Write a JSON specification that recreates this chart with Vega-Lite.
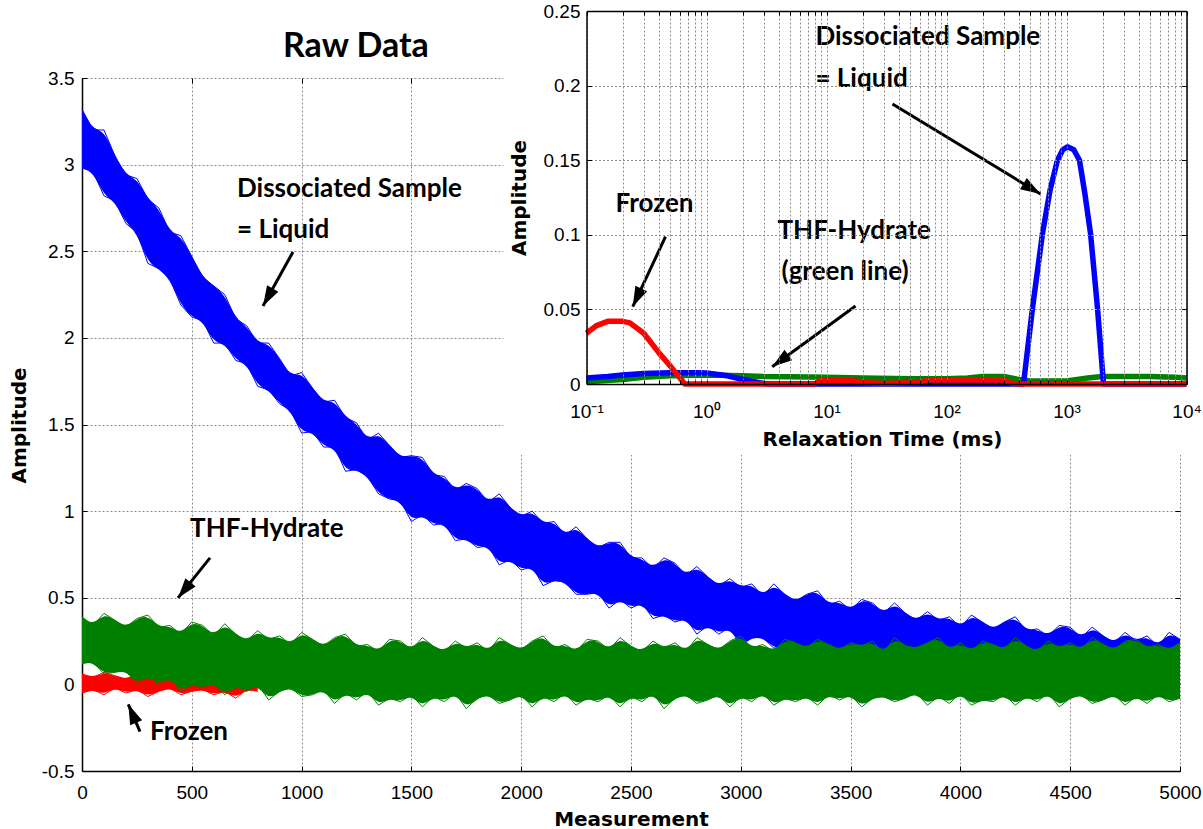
{
  "$schema": "https://vega.github.io/schema/vega-lite/v6.json",
  "width": 1098,
  "height": 693,
  "autosize": {"type": "none"},
  "padding": {"left": 82, "top": 78, "right": 23, "bottom": 58},
  "background": "white",
  "config": {
    "view": {"stroke": null},
    "axis": {"grid": false, "gridColor": "#8c8c8c", "gridDash": [2, 2], "gridWidth": 1, "domainColor": "black", "domainWidth": 1.5,
      "tickColor": "black", "labelFont": "Liberation Sans", "labelFontSize": 19, "labelColor": "black",
      "labelFlush": false, "labelOverlap": false, "titleFont": "DejaVu Sans", "titleFontSize": 20,
      "titleFontWeight": "bold", "titleColor": "black"}
  },
  "datasets": {
    "blue": [
      {"x":0,"lo":2.98,"hi":3.32},{"x":50,"lo":2.96,"hi":3.20},{"x":100,"lo":2.82,"hi":3.20},{"x":150,"lo":2.79,"hi":3.05},
      {"x":200,"lo":2.66,"hi":2.94},{"x":250,"lo":2.61,"hi":2.92},{"x":300,"lo":2.43,"hi":2.80},{"x":350,"lo":2.40,"hi":2.75},
      {"x":400,"lo":2.34,"hi":2.61},{"x":450,"lo":2.19,"hi":2.59},{"x":500,"lo":2.12,"hi":2.47},{"x":550,"lo":2.10,"hi":2.35},
      {"x":600,"lo":1.97,"hi":2.30},{"x":650,"lo":1.97,"hi":2.25},{"x":700,"lo":1.87,"hi":2.11},{"x":750,"lo":1.85,"hi":2.07},
      {"x":800,"lo":1.72,"hi":1.97},{"x":850,"lo":1.70,"hi":1.97},{"x":900,"lo":1.62,"hi":1.88},{"x":950,"lo":1.58,"hi":1.78},
      {"x":1000,"lo":1.45,"hi":1.80},{"x":1050,"lo":1.46,"hi":1.71},{"x":1100,"lo":1.37,"hi":1.63},{"x":1150,"lo":1.37,"hi":1.64},
      {"x":1200,"lo":1.23,"hi":1.54},{"x":1250,"lo":1.24,"hi":1.51},{"x":1300,"lo":1.20,"hi":1.41},{"x":1350,"lo":1.10,"hi":1.45},
      {"x":1400,"lo":1.07,"hi":1.38},{"x":1450,"lo":1.06,"hi":1.31},{"x":1500,"lo":0.94,"hi":1.32},{"x":1550,"lo":0.98,"hi":1.31},
      {"x":1600,"lo":0.92,"hi":1.21},{"x":1650,"lo":0.93,"hi":1.20},{"x":1700,"lo":0.83,"hi":1.12},{"x":1750,"lo":0.84,"hi":1.16},
      {"x":1800,"lo":0.79,"hi":1.13},{"x":1850,"lo":0.80,"hi":1.05},{"x":1900,"lo":0.69,"hi":1.10},{"x":1950,"lo":0.72,"hi":1.02},
      {"x":2000,"lo":0.66,"hi":0.97},{"x":2050,"lo":0.68,"hi":1.00},{"x":2100,"lo":0.57,"hi":0.93},{"x":2150,"lo":0.60,"hi":0.94},
      {"x":2200,"lo":0.59,"hi":0.86},{"x":2250,"lo":0.52,"hi":0.91},{"x":2300,"lo":0.52,"hi":0.84},{"x":2350,"lo":0.53,"hi":0.79},
      {"x":2400,"lo":0.44,"hi":0.82},{"x":2450,"lo":0.49,"hi":0.82},{"x":2500,"lo":0.44,"hi":0.73},{"x":2550,"lo":0.47,"hi":0.73},
      {"x":2600,"lo":0.38,"hi":0.67},{"x":2650,"lo":0.40,"hi":0.73},{"x":2700,"lo":0.36,"hi":0.70},{"x":2750,"lo":0.38,"hi":0.63},
      {"x":2800,"lo":0.29,"hi":0.68},{"x":2850,"lo":0.34,"hi":0.62},{"x":2900,"lo":0.29,"hi":0.57},{"x":2950,"lo":0.33,"hi":0.61},
      {"x":3000,"lo":0.22,"hi":0.56},{"x":3050,"lo":0.27,"hi":0.58},{"x":3100,"lo":0.27,"hi":0.51},{"x":3150,"lo":0.21,"hi":0.58},
      {"x":3200,"lo":0.21,"hi":0.52},{"x":3250,"lo":0.23,"hi":0.48},{"x":3300,"lo":0.15,"hi":0.52},{"x":3350,"lo":0.20,"hi":0.54},
      {"x":3400,"lo":0.16,"hi":0.46},{"x":3450,"lo":0.20,"hi":0.48},{"x":3500,"lo":0.12,"hi":0.43},{"x":3550,"lo":0.15,"hi":0.49},
      {"x":3600,"lo":0.13,"hi":0.47},{"x":3650,"lo":0.16,"hi":0.41},{"x":3700,"lo":0.08,"hi":0.47},{"x":3750,"lo":0.13,"hi":0.41},
      {"x":3800,"lo":0.10,"hi":0.37},{"x":3850,"lo":0.14,"hi":0.42},{"x":3900,"lo":0.04,"hi":0.37},{"x":3950,"lo":0.10,"hi":0.39},
      {"x":4000,"lo":0.11,"hi":0.33},{"x":4050,"lo":0.05,"hi":0.40},{"x":4100,"lo":0.07,"hi":0.36},{"x":4150,"lo":0.09,"hi":0.32},
      {"x":4200,"lo":0.02,"hi":0.36},{"x":4250,"lo":0.07,"hi":0.39},{"x":4300,"lo":0.04,"hi":0.31},{"x":4350,"lo":0.08,"hi":0.32},
      {"x":4400,"lo":0.01,"hi":0.28},{"x":4450,"lo":0.04,"hi":0.34},{"x":4500,"lo":0.02,"hi":0.33},{"x":4550,"lo":0.06,"hi":0.27},
      {"x":4600,"lo":-0.02,"hi":0.33},{"x":4650,"lo":0.04,"hi":0.28},{"x":4700,"lo":0.01,"hi":0.24},{"x":4750,"lo":0.05,"hi":0.30},
      {"x":4800,"lo":-0.04,"hi":0.25},{"x":4850,"lo":0.02,"hi":0.28},{"x":4900,"lo":0.03,"hi":0.22},{"x":4950,"lo":-0.02,"hi":0.30},
      {"x":5000,"lo":0.00,"hi":0.26}
    ],
    "green": [
      {"x":0,"lo":0.12,"hi":0.39},{"x":50,"lo":0.13,"hi":0.34},{"x":100,"lo":0.06,"hi":0.41},{"x":150,"lo":0.07,"hi":0.37},
      {"x":200,"lo":0.08,"hi":0.33},{"x":250,"lo":0.00,"hi":0.38},{"x":300,"lo":0.05,"hi":0.40},{"x":350,"lo":0.00,"hi":0.33},
      {"x":400,"lo":0.04,"hi":0.34},{"x":450,"lo":-0.04,"hi":0.29},{"x":500,"lo":0.00,"hi":0.36},{"x":550,"lo":-0.02,"hi":0.34},
      {"x":600,"lo":0.01,"hi":0.28},{"x":650,"lo":-0.06,"hi":0.35},{"x":700,"lo":-0.01,"hi":0.29},{"x":750,"lo":-0.04,"hi":0.25},
      {"x":800,"lo":0.00,"hi":0.31},{"x":850,"lo":-0.09,"hi":0.26},{"x":900,"lo":-0.04,"hi":0.28},{"x":950,"lo":-0.02,"hi":0.23},
      {"x":1000,"lo":-0.07,"hi":0.30},{"x":1050,"lo":-0.06,"hi":0.26},{"x":1100,"lo":-0.03,"hi":0.22},{"x":1150,"lo":-0.11,"hi":0.27},
      {"x":1200,"lo":-0.05,"hi":0.29},{"x":1250,"lo":-0.09,"hi":0.22},{"x":1300,"lo":-0.04,"hi":0.23},{"x":1350,"lo":-0.12,"hi":0.19},
      {"x":1400,"lo":-0.08,"hi":0.26},{"x":1450,"lo":-0.10,"hi":0.25},{"x":1500,"lo":-0.06,"hi":0.20},{"x":1550,"lo":-0.13,"hi":0.27},
      {"x":1600,"lo":-0.07,"hi":0.22},{"x":1650,"lo":-0.10,"hi":0.19},{"x":1700,"lo":-0.05,"hi":0.25},{"x":1750,"lo":-0.14,"hi":0.21},
      {"x":1800,"lo":-0.08,"hi":0.24},{"x":1850,"lo":-0.06,"hi":0.19},{"x":1900,"lo":-0.11,"hi":0.27},{"x":1950,"lo":-0.09,"hi":0.23},
      {"x":2000,"lo":-0.06,"hi":0.20},{"x":2050,"lo":-0.13,"hi":0.25},{"x":2100,"lo":-0.07,"hi":0.28},{"x":2150,"lo":-0.10,"hi":0.21},
      {"x":2200,"lo":-0.05,"hi":0.23},{"x":2250,"lo":-0.12,"hi":0.19},{"x":2300,"lo":-0.08,"hi":0.26},{"x":2350,"lo":-0.10,"hi":0.25},
      {"x":2400,"lo":-0.06,"hi":0.20},{"x":2450,"lo":-0.13,"hi":0.27},{"x":2500,"lo":-0.07,"hi":0.22},{"x":2550,"lo":-0.10,"hi":0.19},
      {"x":2600,"lo":-0.05,"hi":0.25},{"x":2650,"lo":-0.14,"hi":0.21},{"x":2700,"lo":-0.08,"hi":0.24},{"x":2750,"lo":-0.06,"hi":0.19},
      {"x":2800,"lo":-0.11,"hi":0.27},{"x":2850,"lo":-0.09,"hi":0.23},{"x":2900,"lo":-0.06,"hi":0.20},{"x":2950,"lo":-0.13,"hi":0.25},
      {"x":3000,"lo":-0.07,"hi":0.28},{"x":3050,"lo":-0.10,"hi":0.21},{"x":3100,"lo":-0.05,"hi":0.23},{"x":3150,"lo":-0.12,"hi":0.19},
      {"x":3200,"lo":-0.08,"hi":0.26},{"x":3250,"lo":-0.10,"hi":0.24},{"x":3300,"lo":-0.07,"hi":0.21},{"x":3350,"lo":-0.12,"hi":0.26},
      {"x":3400,"lo":-0.06,"hi":0.23},{"x":3450,"lo":-0.09,"hi":0.20},{"x":3500,"lo":-0.06,"hi":0.24},{"x":3550,"lo":-0.13,"hi":0.22},
      {"x":3600,"lo":-0.08,"hi":0.25},{"x":3650,"lo":-0.07,"hi":0.18},{"x":3700,"lo":-0.10,"hi":0.27},{"x":3750,"lo":-0.08,"hi":0.22},
      {"x":3800,"lo":-0.05,"hi":0.21},{"x":3850,"lo":-0.12,"hi":0.24},{"x":3900,"lo":-0.07,"hi":0.27},{"x":3950,"lo":-0.11,"hi":0.20},
      {"x":4000,"lo":-0.05,"hi":0.24},{"x":4050,"lo":-0.12,"hi":0.19},{"x":4100,"lo":-0.09,"hi":0.25},{"x":4150,"lo":-0.10,"hi":0.23},
      {"x":4200,"lo":-0.06,"hi":0.20},{"x":4250,"lo":-0.12,"hi":0.27},{"x":4300,"lo":-0.07,"hi":0.22},{"x":4350,"lo":-0.10,"hi":0.19},
      {"x":4400,"lo":-0.05,"hi":0.25},{"x":4450,"lo":-0.13,"hi":0.21},{"x":4500,"lo":-0.08,"hi":0.24},{"x":4550,"lo":-0.06,"hi":0.20},
      {"x":4600,"lo":-0.11,"hi":0.27},{"x":4650,"lo":-0.09,"hi":0.23},{"x":4700,"lo":-0.06,"hi":0.20},{"x":4750,"lo":-0.12,"hi":0.25},
      {"x":4800,"lo":-0.07,"hi":0.26},{"x":4850,"lo":-0.11,"hi":0.21},{"x":4900,"lo":-0.06,"hi":0.23},{"x":4950,"lo":-0.10,"hi":0.20},
      {"x":5000,"lo":-0.08,"hi":0.24}
    ],
    "red": [
      {"x":0,"lo":-0.05,"hi":0.06},{"x":50,"lo":-0.03,"hi":0.04},{"x":100,"lo":-0.06,"hi":0.07},{"x":150,"lo":-0.02,"hi":0.05},
      {"x":200,"lo":-0.05,"hi":0.03},{"x":250,"lo":-0.03,"hi":0.06},{"x":300,"lo":-0.07,"hi":0.04},{"x":350,"lo":-0.04,"hi":0.06},
      {"x":400,"lo":-0.02,"hi":0.05},{"x":450,"lo":-0.06,"hi":0.03},{"x":500,"lo":-0.04,"hi":0.05},{"x":550,"lo":-0.03,"hi":0.04},
      {"x":600,"lo":-0.06,"hi":0.06},{"x":650,"lo":-0.04,"hi":0.03},{"x":700,"lo":-0.08,"hi":0.05},{"x":750,"lo":-0.03,"hi":0.04},
      {"x":800,"lo":-0.04,"hi":0.03}
    ],
    "notesMain": [
      {"label":"Dissociated Sample","x":706,"y":2.813},
      {"label":"= Liquid","x":706,"y":2.577},
      {"label":"THF-Hydrate","x":492,"y":0.851},
      {"label":"Frozen","x":310,"y":-0.321}
    ],
    "heading": [{"label":"Raw Data","x":915,"y":3.621}],
    "arrowsMain": [
      {"tx":960.8,"ty":2.496,"hx":824.2,"hy":2.184,"dir":209.1},
      {"tx":582.9,"ty":0.730,"hx":437.2,"hy":0.499,"dir":218.7},
      {"tx":264.1,"ty":-0.273,"hx":210.8,"hy":-0.115,"dir":336.9}
    ],
    "panel": [{"x1":0.0203,"x2":14000,"y1":-0.0476,"y2":0.26}],
    "dgreen": [
      {"t":0.1,"a":0.0015},{"t":0.2,"a":0.003},{"t":0.3,"a":0.0045},{"t":0.5,"a":0.0055},{"t":1,"a":0.006},
      {"t":2,"a":0.0055},{"t":3,"a":0.005},{"t":5,"a":0.0048},{"t":10,"a":0.0045},{"t":20,"a":0.004},
      {"t":50,"a":0.0035},{"t":100,"a":0.0035},{"t":150,"a":0.004},{"t":200,"a":0.005},{"t":300,"a":0.005},
      {"t":400,"a":0.003},{"t":500,"a":0.002},{"t":700,"a":0.002},{"t":1000,"a":0.002},{"t":1500,"a":0.004},
      {"t":2000,"a":0.005},{"t":5000,"a":0.005},{"t":8000,"a":0.0045},{"t":10000,"a":0.004}
    ],
    "dblue": [
      {"t":0.1,"a":0.004},{"t":0.15,"a":0.005},{"t":0.2,"a":0.006},{"t":0.3,"a":0.007},{"t":0.5,"a":0.0076},
      {"t":0.8,"a":0.0076},{"t":1,"a":0.0074},{"t":1.5,"a":0.0055},{"t":2,"a":0.003},{"t":3,"a":0.0003},
      {"t":3.5,"a":0},{"t":100,"a":0},{"t":438,"a":0},{"t":521,"a":0.051},{"t":631,"a":0.101},
      {"t":730,"a":0.13},{"t":841,"a":0.15},{"t":930,"a":0.157},{"t":1019,"a":0.159},{"t":1150,"a":0.157},
      {"t":1283,"a":0.15},{"t":1420,"a":0.128},{"t":1585,"a":0.101},{"t":1812,"a":0.051},{"t":2033,"a":0},
      {"t":10000,"a":0}
    ],
    "dred": [
      {"t":0.1,"a":0.034},{"t":0.12,"a":0.039},{"t":0.15,"a":0.042},{"t":0.2,"a":0.042},{"t":0.23,"a":0.041},
      {"t":0.3,"a":0.034},{"t":0.4,"a":0.021},{"t":0.5,"a":0.012},{"t":0.6,"a":0.004},{"t":0.66,"a":0},
      {"t":8,"a":0},{"t":9,"a":0.0025},{"t":16,"a":0.0027},{"t":20,"a":0.001},{"t":30,"a":0.0003},
      {"t":60,"a":0.001},{"t":70,"a":0.0027},{"t":300,"a":0.0027},{"t":350,"a":0.0005},{"t":400,"a":0},
      {"t":10000,"a":0}
    ],
    "notesInset": [
      {"label":"Dissociated Sample","t":8.09,"a":0.2272},
      {"label":"= Liquid","t":8.09,"a":0.1988},
      {"label":"Frozen","t":0.1745,"a":0.1151},
      {"label":"THF-Hydrate","t":3.905,"a":0.0970},
      {"label":"(green line)","t":4.217,"a":0.0697}
    ],
    "arrowsInset": [
      {"tx":35.48,"ty":0.1877,"hx":607.4,"hy":0.1273,"dir":121.3},
      {"tx":0.4552,"ty":0.0987,"hx":0.2430,"hy":0.0518,"dir":205.0},
      {"tx":17.45,"ty":0.0523,"hx":3.527,"hy":0.0116,"dir":233.9}
    ]
  },
  "layer": [
    {
      "layer": [
        {
          "data": {"name": "blue"},
          "mark": {"type": "area", "color": "#0000ff", "opacity": 1, "interpolate": "basis"},
          "encoding": {
            "x": {"field": "x", "type": "quantitative", "scale": {"domain": [0, 5000], "nice": false, "zero": false},
              "axis": {"orient": "bottom", "values": [0,500,1000,1500,2000,2500,3000,3500,4000,4500,5000], "labelExpr": "'' + datum.value", "grid": true, "tickSize": -5, "labelPadding": 17, "labelBaseline": "top", "title": "Measurement", "titleY": 54, "titleBaseline": "alphabetic"}},
            "y": {"field": "hi", "type": "quantitative", "scale": {"domain": [-0.5, 3.5], "nice": false, "zero": false},
              "axis": {"orient": "left", "values": [-0.5,0,0.5,1,1.5,2,2.5,3,3.5], "labelExpr": "'' + datum.value", "grid": true, "tickSize": -5, "labelPadding": 13, "labelBaseline": "middle", "labelAlign": "right", "title": "Amplitude", "titleX": -57, "titleY": 347, "titleAngle": 270, "titleBaseline": "alphabetic", "titleAlign": "center"}},
            "y2": {"field": "lo"}
          }
        },
        {
          "data": {"name": "blue"},
          "transform": [{"fold": ["hi", "lo"]}],
          "mark": {"type": "line", "color": "#0000ff", "strokeWidth": 1},
          "encoding": {
            "x": {"field": "x", "type": "quantitative", "scale": {"domain": [0, 5000], "nice": false, "zero": false},
              "axis": {"orient": "bottom", "values": [0,500,1000,1500,2000,2500,3000,3500,4000,4500,5000], "labelExpr": "'' + datum.value", "grid": true, "tickSize": -5, "labelPadding": 17, "labelBaseline": "top", "title": "Measurement", "titleY": 54, "titleBaseline": "alphabetic"}},
            "y": {"field": "value", "type": "quantitative", "scale": {"domain": [-0.5, 3.5], "nice": false, "zero": false},
              "axis": {"orient": "left", "values": [-0.5,0,0.5,1,1.5,2,2.5,3,3.5], "labelExpr": "'' + datum.value", "grid": true, "tickSize": -5, "labelPadding": 13, "labelBaseline": "middle", "labelAlign": "right", "title": "Amplitude", "titleX": -57, "titleY": 347, "titleAngle": 270, "titleBaseline": "alphabetic", "titleAlign": "center"}},
            "detail": {"field": "key"}
          }
        },
        {
          "data": {"name": "red"},
          "mark": {"type": "area", "color": "#ff0000", "opacity": 1, "interpolate": "basis"},
          "encoding": {
            "x": {"field": "x", "type": "quantitative", "scale": {"domain": [0, 5000], "nice": false, "zero": false},
              "axis": {"orient": "bottom", "values": [0,500,1000,1500,2000,2500,3000,3500,4000,4500,5000], "labelExpr": "'' + datum.value", "grid": true, "tickSize": -5, "labelPadding": 17, "labelBaseline": "top", "title": "Measurement", "titleY": 54, "titleBaseline": "alphabetic"}},
            "y": {"field": "hi", "type": "quantitative", "scale": {"domain": [-0.5, 3.5], "nice": false, "zero": false},
              "axis": {"orient": "left", "values": [-0.5,0,0.5,1,1.5,2,2.5,3,3.5], "labelExpr": "'' + datum.value", "grid": true, "tickSize": -5, "labelPadding": 13, "labelBaseline": "middle", "labelAlign": "right", "title": "Amplitude", "titleX": -57, "titleY": 347, "titleAngle": 270, "titleBaseline": "alphabetic", "titleAlign": "center"}},
            "y2": {"field": "lo"}
          }
        },
        {
          "data": {"name": "red"},
          "transform": [{"fold": ["hi", "lo"]}],
          "mark": {"type": "line", "color": "#ff0000", "strokeWidth": 1},
          "encoding": {
            "x": {"field": "x", "type": "quantitative", "scale": {"domain": [0, 5000], "nice": false, "zero": false},
              "axis": {"orient": "bottom", "values": [0,500,1000,1500,2000,2500,3000,3500,4000,4500,5000], "labelExpr": "'' + datum.value", "grid": true, "tickSize": -5, "labelPadding": 17, "labelBaseline": "top", "title": "Measurement", "titleY": 54, "titleBaseline": "alphabetic"}},
            "y": {"field": "value", "type": "quantitative", "scale": {"domain": [-0.5, 3.5], "nice": false, "zero": false},
              "axis": {"orient": "left", "values": [-0.5,0,0.5,1,1.5,2,2.5,3,3.5], "labelExpr": "'' + datum.value", "grid": true, "tickSize": -5, "labelPadding": 13, "labelBaseline": "middle", "labelAlign": "right", "title": "Amplitude", "titleX": -57, "titleY": 347, "titleAngle": 270, "titleBaseline": "alphabetic", "titleAlign": "center"}},
            "detail": {"field": "key"}
          }
        },
        {
          "data": {"name": "green"},
          "mark": {"type": "area", "color": "#008000", "opacity": 1, "interpolate": "basis"},
          "encoding": {
            "x": {"field": "x", "type": "quantitative", "scale": {"domain": [0, 5000], "nice": false, "zero": false},
              "axis": {"orient": "bottom", "values": [0,500,1000,1500,2000,2500,3000,3500,4000,4500,5000], "labelExpr": "'' + datum.value", "grid": true, "tickSize": -5, "labelPadding": 17, "labelBaseline": "top", "title": "Measurement", "titleY": 54, "titleBaseline": "alphabetic"}},
            "y": {"field": "hi", "type": "quantitative", "scale": {"domain": [-0.5, 3.5], "nice": false, "zero": false},
              "axis": {"orient": "left", "values": [-0.5,0,0.5,1,1.5,2,2.5,3,3.5], "labelExpr": "'' + datum.value", "grid": true, "tickSize": -5, "labelPadding": 13, "labelBaseline": "middle", "labelAlign": "right", "title": "Amplitude", "titleX": -57, "titleY": 347, "titleAngle": 270, "titleBaseline": "alphabetic", "titleAlign": "center"}},
            "y2": {"field": "lo"}
          }
        },
        {
          "data": {"name": "green"},
          "transform": [{"fold": ["hi", "lo"]}],
          "mark": {"type": "line", "color": "#008000", "strokeWidth": 1},
          "encoding": {
            "x": {"field": "x", "type": "quantitative", "scale": {"domain": [0, 5000], "nice": false, "zero": false},
              "axis": {"orient": "bottom", "values": [0,500,1000,1500,2000,2500,3000,3500,4000,4500,5000], "labelExpr": "'' + datum.value", "grid": true, "tickSize": -5, "labelPadding": 17, "labelBaseline": "top", "title": "Measurement", "titleY": 54, "titleBaseline": "alphabetic"}},
            "y": {"field": "value", "type": "quantitative", "scale": {"domain": [-0.5, 3.5], "nice": false, "zero": false},
              "axis": {"orient": "left", "values": [-0.5,0,0.5,1,1.5,2,2.5,3,3.5], "labelExpr": "'' + datum.value", "grid": true, "tickSize": -5, "labelPadding": 13, "labelBaseline": "middle", "labelAlign": "right", "title": "Amplitude", "titleX": -57, "titleY": 347, "titleAngle": 270, "titleBaseline": "alphabetic", "titleAlign": "center"}},
            "detail": {"field": "key"}
          }
        },
        {
          "data": {"name": "arrowsMain"},
          "mark": {"type": "rule", "color": "black", "strokeWidth": 3},
          "encoding": {
            "x": {"field": "tx", "type": "quantitative", "scale": {"domain": [0, 5000], "nice": false, "zero": false},
              "axis": {"orient": "bottom", "values": [0,500,1000,1500,2000,2500,3000,3500,4000,4500,5000], "labelExpr": "'' + datum.value", "grid": true, "tickSize": -5, "labelPadding": 17, "labelBaseline": "top", "title": "Measurement", "titleY": 54, "titleBaseline": "alphabetic"}},
            "y": {"field": "ty", "type": "quantitative", "scale": {"domain": [-0.5, 3.5], "nice": false, "zero": false},
              "axis": {"orient": "left", "values": [-0.5,0,0.5,1,1.5,2,2.5,3,3.5], "labelExpr": "'' + datum.value", "grid": true, "tickSize": -5, "labelPadding": 13, "labelBaseline": "middle", "labelAlign": "right", "title": "Amplitude", "titleX": -57, "titleY": 347, "titleAngle": 270, "titleBaseline": "alphabetic", "titleAlign": "center"}},
            "x2": {"field": "hx"},
            "y2": {"field": "hy"}
          }
        },
        {
          "data": {"name": "arrowsMain"},
          "mark": {"type": "point", "shape": "M0,0L0.65,2L-0.65,2Z", "size": 400, "filled": true, "color": "black", "opacity": 1},
          "encoding": {
            "x": {"field": "hx", "type": "quantitative", "scale": {"domain": [0, 5000], "nice": false, "zero": false},
              "axis": {"orient": "bottom", "values": [0,500,1000,1500,2000,2500,3000,3500,4000,4500,5000], "labelExpr": "'' + datum.value", "grid": true, "tickSize": -5, "labelPadding": 17, "labelBaseline": "top", "title": "Measurement", "titleY": 54, "titleBaseline": "alphabetic"}},
            "y": {"field": "hy", "type": "quantitative", "scale": {"domain": [-0.5, 3.5], "nice": false, "zero": false},
              "axis": {"orient": "left", "values": [-0.5,0,0.5,1,1.5,2,2.5,3,3.5], "labelExpr": "'' + datum.value", "grid": true, "tickSize": -5, "labelPadding": 13, "labelBaseline": "middle", "labelAlign": "right", "title": "Amplitude", "titleX": -57, "titleY": 347, "titleAngle": 270, "titleBaseline": "alphabetic", "titleAlign": "center"}},
            "angle": {"field": "dir", "type": "quantitative", "scale": null}
          }
        },
        {
          "data": {"name": "notesMain"},
          "mark": {"type": "text", "align": "left", "baseline": "alphabetic", "font": "Lato", "fontWeight": "bold", "fontSize": 26, "color": "black"},
          "encoding": {
            "x": {"field": "x", "type": "quantitative", "scale": {"domain": [0, 5000], "nice": false, "zero": false},
              "axis": {"orient": "bottom", "values": [0,500,1000,1500,2000,2500,3000,3500,4000,4500,5000], "labelExpr": "'' + datum.value", "grid": true, "tickSize": -5, "labelPadding": 17, "labelBaseline": "top", "title": "Measurement", "titleY": 54, "titleBaseline": "alphabetic"}},
            "y": {"field": "y", "type": "quantitative", "scale": {"domain": [-0.5, 3.5], "nice": false, "zero": false},
              "axis": {"orient": "left", "values": [-0.5,0,0.5,1,1.5,2,2.5,3,3.5], "labelExpr": "'' + datum.value", "grid": true, "tickSize": -5, "labelPadding": 13, "labelBaseline": "middle", "labelAlign": "right", "title": "Amplitude", "titleX": -57, "titleY": 347, "titleAngle": 270, "titleBaseline": "alphabetic", "titleAlign": "center"}},
            "text": {"field": "label"}
          }
        }
      ]
    },
    {
      "data": {"name": "heading"},
      "mark": {"type": "text", "align": "left", "baseline": "alphabetic", "font": "Lato", "fontWeight": "bold", "fontSize": 34, "color": "black"},
      "encoding": {
        "x": {"field": "x", "type": "quantitative", "scale": {"domain": [0, 5000], "nice": false, "zero": false},
          "axis": {"orient": "top", "values": [0,500,1000,1500,2000,2500,3000,3500,4000,4500,5000], "labels": false, "grid": false, "domain": false, "tickSize": -5, "title": null}},
        "y": {"field": "y", "type": "quantitative", "scale": {"domain": [-0.5, 3.5], "nice": false, "zero": false},
          "axis": {"orient": "right", "values": [-0.5,0,0.5,1,1.5,2,2.5,3,3.5], "labels": false, "grid": false, "domain": false, "tickSize": -5, "title": null}},
        "text": {"field": "label"}
      }
    },
    {
      "data": {"name": "panel"},
      "mark": {"type": "rect", "color": "white", "opacity": 1},
      "encoding": {
        "x": {"field": "x1", "type": "quantitative",
          "scale": {"type": "log", "domain": [0.1, 10000], "range": [504.5, 1104.5], "nice": false},
          "axis": {"orient": "top", "offset": 67, "values": [0.1,0.2,0.3,0.4,0.5,0.6,0.7,0.8,0.9,1,2,3,4,5,6,7,8,9,10,20,30,40,50,60,70,80,90,100,200,300,400,500,600,700,800,900,1000,2000,3000,4000,5000,6000,7000,8000,9000,10000],
            "labels": false, "grid": false, "tickSize": -4, "title": null, "zindex": 1}},
        "x2": {"field": "x2"},
        "y": {"field": "y1", "type": "quantitative",
          "scale": {"domain": [0, 0.25], "range": [306, -67], "nice": false, "zero": false},
          "axis": {"orient": "right", "offset": 6.5, "values": [0,0.05,0.1,0.15,0.2,0.25],
            "labels": false, "grid": false, "tickSize": -5, "title": null, "zindex": 1}},
        "y2": {"field": "y2"}
      }
    },
    {
      "layer": [
        {
          "data": {"name": "dgreen"},
          "mark": {"type": "line", "color": "#008000", "strokeWidth": 5.5, "strokeJoin": "round"},
          "encoding": {
            "x": {"field": "t", "type": "quantitative", "scale": {"type": "log", "domain": [0.1, 10000], "range": [504.5, 1104.5], "nice": false},
              "axis": {"orient": "top", "offset": -306, "values": [0.1,0.2,0.3,0.4,0.5,0.6,0.7,0.8,0.9,1,2,3,4,5,6,7,8,9,10,20,30,40,50,60,70,80,90,100,200,300,400,500,600,700,800,900,1000,2000,3000,4000,5000,6000,7000,8000,9000,10000], "labelExpr": "datum.value == 0.1 ? '10⁻¹' : datum.value == 1 ? '10⁰' : datum.value == 10 ? '10¹' : datum.value == 100 ? '10²' : datum.value == 1000 ? '10³' : datum.value == 10000 ? '10⁴' : ''", "grid": true, "tickSize": 4, "labelPadding": -37, "labelBaseline": "alphabetic", "title": "Relaxation Time (ms)", "titleX": 800, "titleY": 61, "titleBaseline": "alphabetic", "titleAlign": "center", "zindex": 1}},
            "y": {"field": "a", "type": "quantitative", "scale": {"domain": [0, 0.25], "range": [306, -67], "nice": false, "zero": false},
              "axis": {"orient": "left", "offset": -504.5, "values": [0,0.05,0.1,0.15,0.2,0.25], "labelExpr": "'' + datum.value", "grid": true, "tickSize": -5, "labelPadding": 11.5, "labelBaseline": "middle", "labelAlign": "right", "title": "Amplitude", "titleX": -61.5, "titleY": 119.5, "titleAngle": 270, "titleBaseline": "alphabetic", "titleAlign": "center", "zindex": 1}}
          }
        },
        {
          "data": {"name": "dblue"},
          "mark": {"type": "line", "color": "#0000ff", "strokeWidth": 5.5, "strokeJoin": "round"},
          "encoding": {
            "x": {"field": "t", "type": "quantitative", "scale": {"type": "log", "domain": [0.1, 10000], "range": [504.5, 1104.5], "nice": false},
              "axis": {"orient": "top", "offset": -306, "values": [0.1,0.2,0.3,0.4,0.5,0.6,0.7,0.8,0.9,1,2,3,4,5,6,7,8,9,10,20,30,40,50,60,70,80,90,100,200,300,400,500,600,700,800,900,1000,2000,3000,4000,5000,6000,7000,8000,9000,10000], "labelExpr": "datum.value == 0.1 ? '10⁻¹' : datum.value == 1 ? '10⁰' : datum.value == 10 ? '10¹' : datum.value == 100 ? '10²' : datum.value == 1000 ? '10³' : datum.value == 10000 ? '10⁴' : ''", "grid": true, "tickSize": 4, "labelPadding": -37, "labelBaseline": "alphabetic", "title": "Relaxation Time (ms)", "titleX": 800, "titleY": 61, "titleBaseline": "alphabetic", "titleAlign": "center", "zindex": 1}},
            "y": {"field": "a", "type": "quantitative", "scale": {"domain": [0, 0.25], "range": [306, -67], "nice": false, "zero": false},
              "axis": {"orient": "left", "offset": -504.5, "values": [0,0.05,0.1,0.15,0.2,0.25], "labelExpr": "'' + datum.value", "grid": true, "tickSize": -5, "labelPadding": 11.5, "labelBaseline": "middle", "labelAlign": "right", "title": "Amplitude", "titleX": -61.5, "titleY": 119.5, "titleAngle": 270, "titleBaseline": "alphabetic", "titleAlign": "center", "zindex": 1}}
          }
        },
        {
          "data": {"name": "dred"},
          "mark": {"type": "line", "color": "#ff0000", "strokeWidth": 5.5, "strokeJoin": "round"},
          "encoding": {
            "x": {"field": "t", "type": "quantitative", "scale": {"type": "log", "domain": [0.1, 10000], "range": [504.5, 1104.5], "nice": false},
              "axis": {"orient": "top", "offset": -306, "values": [0.1,0.2,0.3,0.4,0.5,0.6,0.7,0.8,0.9,1,2,3,4,5,6,7,8,9,10,20,30,40,50,60,70,80,90,100,200,300,400,500,600,700,800,900,1000,2000,3000,4000,5000,6000,7000,8000,9000,10000], "labelExpr": "datum.value == 0.1 ? '10⁻¹' : datum.value == 1 ? '10⁰' : datum.value == 10 ? '10¹' : datum.value == 100 ? '10²' : datum.value == 1000 ? '10³' : datum.value == 10000 ? '10⁴' : ''", "grid": true, "tickSize": 4, "labelPadding": -37, "labelBaseline": "alphabetic", "title": "Relaxation Time (ms)", "titleX": 800, "titleY": 61, "titleBaseline": "alphabetic", "titleAlign": "center", "zindex": 1}},
            "y": {"field": "a", "type": "quantitative", "scale": {"domain": [0, 0.25], "range": [306, -67], "nice": false, "zero": false},
              "axis": {"orient": "left", "offset": -504.5, "values": [0,0.05,0.1,0.15,0.2,0.25], "labelExpr": "'' + datum.value", "grid": true, "tickSize": -5, "labelPadding": 11.5, "labelBaseline": "middle", "labelAlign": "right", "title": "Amplitude", "titleX": -61.5, "titleY": 119.5, "titleAngle": 270, "titleBaseline": "alphabetic", "titleAlign": "center", "zindex": 1}}
          }
        },
        {
          "data": {"name": "arrowsInset"},
          "mark": {"type": "rule", "color": "black", "strokeWidth": 3},
          "encoding": {
            "x": {"field": "tx", "type": "quantitative", "scale": {"type": "log", "domain": [0.1, 10000], "range": [504.5, 1104.5], "nice": false},
              "axis": {"orient": "top", "offset": -306, "values": [0.1,0.2,0.3,0.4,0.5,0.6,0.7,0.8,0.9,1,2,3,4,5,6,7,8,9,10,20,30,40,50,60,70,80,90,100,200,300,400,500,600,700,800,900,1000,2000,3000,4000,5000,6000,7000,8000,9000,10000], "labelExpr": "datum.value == 0.1 ? '10⁻¹' : datum.value == 1 ? '10⁰' : datum.value == 10 ? '10¹' : datum.value == 100 ? '10²' : datum.value == 1000 ? '10³' : datum.value == 10000 ? '10⁴' : ''", "grid": true, "tickSize": 4, "labelPadding": -37, "labelBaseline": "alphabetic", "title": "Relaxation Time (ms)", "titleX": 800, "titleY": 61, "titleBaseline": "alphabetic", "titleAlign": "center", "zindex": 1}},
            "y": {"field": "ty", "type": "quantitative", "scale": {"domain": [0, 0.25], "range": [306, -67], "nice": false, "zero": false},
              "axis": {"orient": "left", "offset": -504.5, "values": [0,0.05,0.1,0.15,0.2,0.25], "labelExpr": "'' + datum.value", "grid": true, "tickSize": -5, "labelPadding": 11.5, "labelBaseline": "middle", "labelAlign": "right", "title": "Amplitude", "titleX": -61.5, "titleY": 119.5, "titleAngle": 270, "titleBaseline": "alphabetic", "titleAlign": "center", "zindex": 1}},
            "x2": {"field": "hx"},
            "y2": {"field": "hy"}
          }
        },
        {
          "data": {"name": "arrowsInset"},
          "mark": {"type": "point", "shape": "M0,0L0.65,2L-0.65,2Z", "size": 400, "filled": true, "color": "black", "opacity": 1},
          "encoding": {
            "x": {"field": "hx", "type": "quantitative", "scale": {"type": "log", "domain": [0.1, 10000], "range": [504.5, 1104.5], "nice": false},
              "axis": {"orient": "top", "offset": -306, "values": [0.1,0.2,0.3,0.4,0.5,0.6,0.7,0.8,0.9,1,2,3,4,5,6,7,8,9,10,20,30,40,50,60,70,80,90,100,200,300,400,500,600,700,800,900,1000,2000,3000,4000,5000,6000,7000,8000,9000,10000], "labelExpr": "datum.value == 0.1 ? '10⁻¹' : datum.value == 1 ? '10⁰' : datum.value == 10 ? '10¹' : datum.value == 100 ? '10²' : datum.value == 1000 ? '10³' : datum.value == 10000 ? '10⁴' : ''", "grid": true, "tickSize": 4, "labelPadding": -37, "labelBaseline": "alphabetic", "title": "Relaxation Time (ms)", "titleX": 800, "titleY": 61, "titleBaseline": "alphabetic", "titleAlign": "center", "zindex": 1}},
            "y": {"field": "hy", "type": "quantitative", "scale": {"domain": [0, 0.25], "range": [306, -67], "nice": false, "zero": false},
              "axis": {"orient": "left", "offset": -504.5, "values": [0,0.05,0.1,0.15,0.2,0.25], "labelExpr": "'' + datum.value", "grid": true, "tickSize": -5, "labelPadding": 11.5, "labelBaseline": "middle", "labelAlign": "right", "title": "Amplitude", "titleX": -61.5, "titleY": 119.5, "titleAngle": 270, "titleBaseline": "alphabetic", "titleAlign": "center", "zindex": 1}},
            "angle": {"field": "dir", "type": "quantitative", "scale": null}
          }
        },
        {
          "data": {"name": "notesInset"},
          "mark": {"type": "text", "align": "left", "baseline": "alphabetic", "font": "Lato", "fontWeight": "bold", "fontSize": 26, "color": "black"},
          "encoding": {
            "x": {"field": "t", "type": "quantitative", "scale": {"type": "log", "domain": [0.1, 10000], "range": [504.5, 1104.5], "nice": false},
              "axis": {"orient": "top", "offset": -306, "values": [0.1,0.2,0.3,0.4,0.5,0.6,0.7,0.8,0.9,1,2,3,4,5,6,7,8,9,10,20,30,40,50,60,70,80,90,100,200,300,400,500,600,700,800,900,1000,2000,3000,4000,5000,6000,7000,8000,9000,10000], "labelExpr": "datum.value == 0.1 ? '10⁻¹' : datum.value == 1 ? '10⁰' : datum.value == 10 ? '10¹' : datum.value == 100 ? '10²' : datum.value == 1000 ? '10³' : datum.value == 10000 ? '10⁴' : ''", "grid": true, "tickSize": 4, "labelPadding": -37, "labelBaseline": "alphabetic", "title": "Relaxation Time (ms)", "titleX": 800, "titleY": 61, "titleBaseline": "alphabetic", "titleAlign": "center", "zindex": 1}},
            "y": {"field": "a", "type": "quantitative", "scale": {"domain": [0, 0.25], "range": [306, -67], "nice": false, "zero": false},
              "axis": {"orient": "left", "offset": -504.5, "values": [0,0.05,0.1,0.15,0.2,0.25], "labelExpr": "'' + datum.value", "grid": true, "tickSize": -5, "labelPadding": 11.5, "labelBaseline": "middle", "labelAlign": "right", "title": "Amplitude", "titleX": -61.5, "titleY": 119.5, "titleAngle": 270, "titleBaseline": "alphabetic", "titleAlign": "center", "zindex": 1}},
            "text": {"field": "label"}
          }
        }
      ]
    }
  ],
  "resolve": {"scale": {"x": "independent", "y": "independent"}, "axis": {"x": "independent", "y": "independent"}}
}
